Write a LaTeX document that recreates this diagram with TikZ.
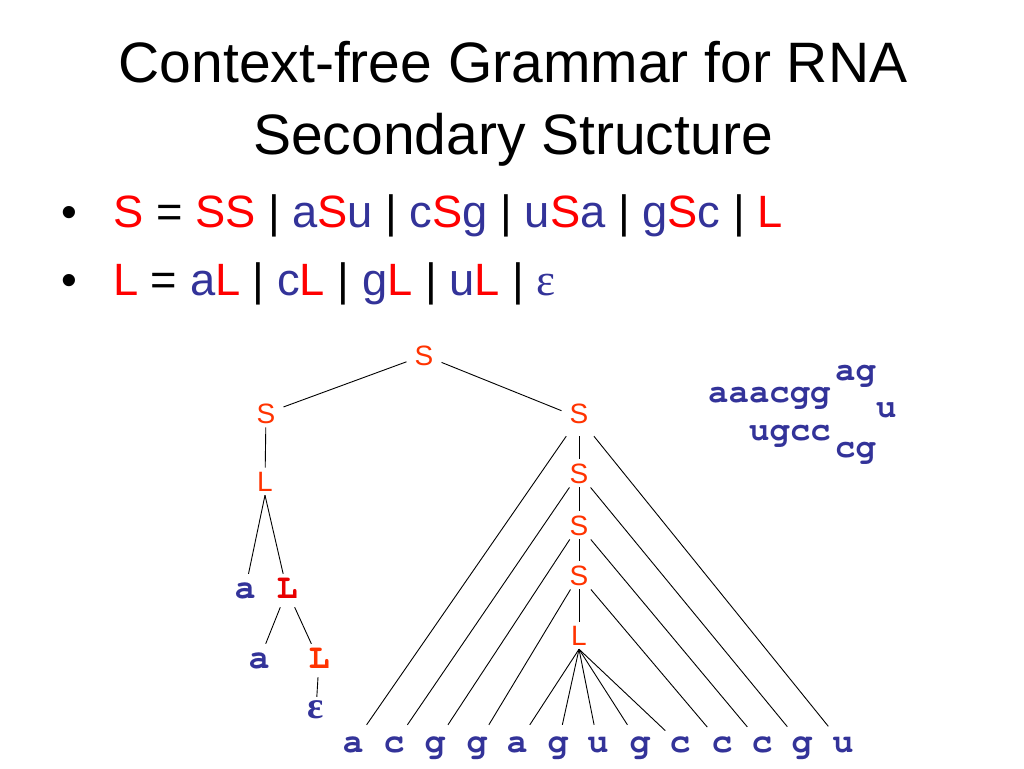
\documentclass[tikz,border=0pt]{standalone}
\usepackage{fontspec}
\setmainfont{Liberation Sans}
\newfontfamily\monofont{texgyrecursor}[Extension=.otf,UprightFont=*-regular,BoldFont=*-bold]
\newfontfamily\seriffont{Liberation Serif}
\definecolor{redS}{HTML}{FF0000}
\definecolor{blu}{HTML}{333399}
\definecolor{ora}{HTML}{FF3300}
\definecolor{redL}{HTML}{E80000}
\newcommand{\rd}[1]{\textcolor{redS}{#1}}
\newcommand{\bl}[1]{\textcolor{blu}{#1}}
\begin{document}
\begin{tikzpicture}[x=1pt,y=-1pt,
  title/.style={anchor=base,inner sep=0pt,font=\fontsize{57}{57}\selectfont},
  rule/.style={anchor=base west,inner sep=0pt,font=\fontsize{45.3}{45}\selectfont},
  bul/.style={anchor=base,inner sep=0pt,font=\fontsize{45}{45}\selectfont},
  nt/.style={anchor=base,text=ora,inner xsep=8pt,inner ysep=4pt,font=\fontsize{28}{28}\selectfont},
  leaf/.style={anchor=base,text=blu,text height=15pt,text depth=0pt,inner xsep=4pt,inner ysep=12pt,font=\fontsize{35}{35}\selectfont\monofont\bfseries},
  mn/.style={anchor=base,text=blu,text height=15pt,text depth=0pt,inner xsep=3pt,inner ysep=9pt,font=\fontsize{35}{35}\selectfont\monofont\bfseries},
  ann/.style={anchor=base west,inner sep=0pt,text=blu,font=\fontsize{34}{34}\selectfont\monofont\bfseries},
  edge/.style={draw=black,line width=0.9pt}]
\useasboundingbox[fill=white] (0,0) rectangle (1024,768);
% title
\node[title] (t1) at (513,82) {Context-free Grammar for RNA};
\node[title] (t2) at (513,154) {Secondary Structure};
% rules
\node[bul] (b1) at (69,227) {•};
\node[bul] (b2) at (69,295) {•};
\node[rule] (r1) at (113,227) {\rd{S} = \rd{SS} | \bl{a}\rd{S}\bl{u} | \bl{c}\rd{S}\bl{g} | \bl{u}\rd{S}\bl{a} | \bl{g}\rd{S}\bl{c} | \rd{L}};
\node[rule] (r2) at (113,295) {\rd{L} = \bl{a}\rd{L} | \bl{c}\rd{L} | \bl{g}\rd{L} | \bl{u}\rd{L} | \bl{\seriffont ε}};
% tree nonterminals
\node[nt] (top) at (424,365) {S};
\node[nt] (lS) at (266,423) {S};
\node[nt,text depth=9pt] (rS) at (579,423) {S};
\node[nt] (lL) at (265,491) {L};
\node[nt] (S2) at (579,483) {S};
\node[nt] (S3) at (579,535) {S};
\node[nt] (S4) at (579,585) {S};
\node[nt] (rL) at (579,645) {L};
% left subtree
\node[mn] (a1) at (245,598) {a};
\node[mn,text=redL] (L1) at (287,598) {L};
\node[mn] (a2) at (259,668) {a};
\node[mn,text=ora] (L2) at (319,668) {L};
\node[mn,inner ysep=6pt,font=\fontsize{38}{38}\selectfont\seriffont\bfseries] (e) at (316,718) {ε};
% leaves
\node[leaf] (x1) at (353,752) {a};
\node[leaf] (x2) at (394,752) {c};
\node[leaf] (x3) at (435,752) {g};
\node[leaf] (x4) at (477,752) {g};
\node[leaf] (x5) at (517,752) {a};
\node[leaf] (x6) at (558,752) {g};
\node[leaf] (x7) at (598,752) {u};
\node[leaf] (x8) at (640,752) {g};
\node[leaf] (x9) at (680,752) {c};
\node[leaf] (x10) at (722,752) {c};
\node[leaf] (x11) at (762,752) {c};
\node[leaf] (x12) at (802,752) {g};
\node[leaf] (x13) at (843,752) {u};
% annotation
\node[ann] (n1) at (708,402) {aaacgg};
\node[ann] (n2) at (835,380) {ag};
\node[ann] (n3) at (876,417) {u};
\node[ann] (n4) at (749,440) {ugcc};
\node[ann] (n5) at (835,457) {cg};
% edges
\path[edge] (top) -- (lS);
\path[edge] (top) -- (rS);
\path[edge] (lS) -- (lL);
\path[edge] (lL.south) -- (a1);
\path[edge] (lL.south) -- (L1);
\path[edge] (L1) -- (a2);
\path[edge] (L1) -- (L2);
\path[edge] (L2) -- (e);
\path[edge] (rS) -- (S2);
\path[edge] (S2) -- (S3);
\path[edge] (S3) -- (S4);
\path[edge] (S4) -- (rL);
\path[edge] (rS) -- (x1);
\path[edge] (rS) -- (x13);
\path[edge] (S2) -- (x2);
\path[edge] (S2) -- (x12);
\path[edge] (S3) -- (x3);
\path[edge] (S3) -- (x11);
\path[edge] (S4) -- (x4);
\path[edge] (S4) -- (x10);
\foreach \k in {5,6,7,8,9} \path[edge] (rL.south) -- (x\k);
\end{tikzpicture}
\end{document}
